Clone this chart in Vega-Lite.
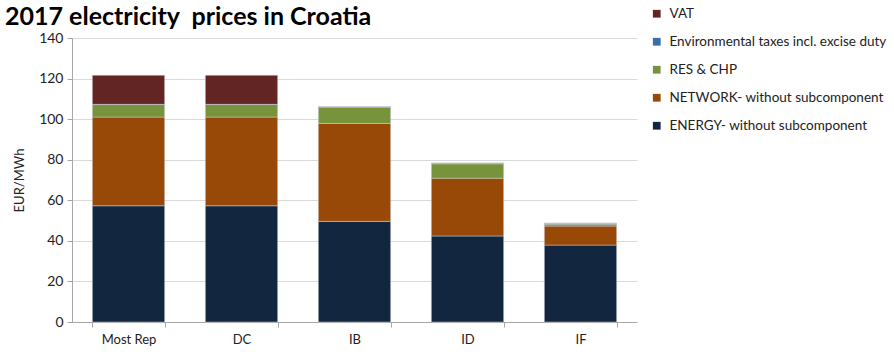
{
  "$schema": "https://vega.github.io/schema/vega-lite/v6.json",
  "width": 565,
  "height": 284,
  "padding": {"left": 5, "top": 5, "right": 2, "bottom": 5},
  "background": "#ffffff",
  "title": {
    "text": "2017 electricity\u00a0 prices in Croatia",
    "anchor": "start",
    "frame": "group",
    "dx": -67,
    "fontSize": 25,
    "font": "Lato",
    "fontWeight": "bold",
    "color": "#000000",
    "offset": -23
  },
  "config": {
    "font": "Lato",
    "view": {"stroke": null},
    "axis": {"labelFont": "Lato", "titleFont": "Lato"},
    "legend": {"labelFont": "Lato"}
  },
  "data": {
    "values": [
      {"cat": "Most Rep", "comp": "ENERGY- without subcomponent", "rank": 1, "v": 57.3},
      {"cat": "Most Rep", "comp": "NETWORK- without subcomponent", "rank": 2, "v": 43.7},
      {"cat": "Most Rep", "comp": "RES & CHP", "rank": 3, "v": 6.2},
      {"cat": "Most Rep", "comp": "Environmental taxes incl. excise duty", "rank": 4, "v": 0.1},
      {"cat": "Most Rep", "comp": "VAT", "rank": 5, "v": 14.3},
      {"cat": "DC", "comp": "ENERGY- without subcomponent", "rank": 1, "v": 57.3},
      {"cat": "DC", "comp": "NETWORK- without subcomponent", "rank": 2, "v": 43.7},
      {"cat": "DC", "comp": "RES & CHP", "rank": 3, "v": 6.2},
      {"cat": "DC", "comp": "Environmental taxes incl. excise duty", "rank": 4, "v": 0.1},
      {"cat": "DC", "comp": "VAT", "rank": 5, "v": 14.3},
      {"cat": "IB", "comp": "ENERGY- without subcomponent", "rank": 1, "v": 49.6},
      {"cat": "IB", "comp": "NETWORK- without subcomponent", "rank": 2, "v": 48.3},
      {"cat": "IB", "comp": "RES & CHP", "rank": 3, "v": 7.9},
      {"cat": "IB", "comp": "Environmental taxes incl. excise duty", "rank": 4, "v": 0.4},
      {"cat": "IB", "comp": "VAT", "rank": 5, "v": 0},
      {"cat": "ID", "comp": "ENERGY- without subcomponent", "rank": 1, "v": 42.4},
      {"cat": "ID", "comp": "NETWORK- without subcomponent", "rank": 2, "v": 28.5},
      {"cat": "ID", "comp": "RES & CHP", "rank": 3, "v": 7.1},
      {"cat": "ID", "comp": "Environmental taxes incl. excise duty", "rank": 4, "v": 0.4},
      {"cat": "ID", "comp": "VAT", "rank": 5, "v": 0},
      {"cat": "IF", "comp": "ENERGY- without subcomponent", "rank": 1, "v": 37.9},
      {"cat": "IF", "comp": "NETWORK- without subcomponent", "rank": 2, "v": 9.4},
      {"cat": "IF", "comp": "RES & CHP", "rank": 3, "v": 0.9},
      {"cat": "IF", "comp": "Environmental taxes incl. excise duty", "rank": 4, "v": 0.5},
      {"cat": "IF", "comp": "VAT", "rank": 5, "v": 0}
    ]
  },
  "mark": {"type": "bar", "stroke": "#d0d4dc", "strokeWidth": 0.6, "strokeOpacity": 0.8},
  "encoding": {
    "x": {
      "field": "cat",
      "type": "nominal",
      "sort": ["Most Rep", "DC", "IB", "ID", "IF"],
      "scale": {"paddingInner": 0.36, "paddingOuter": 0.18},
      "axis": {
        "title": null,
        "labelAngle": 0,
        "labelFontSize": 13,
        "labelColor": "#222222",
        "labelPadding": 6,
        "tickBand": "extent",
        "tickColor": "#a6a6a6",
        "tickSize": 5,
        "domainColor": "#a6a6a6"
      }
    },
    "y": {
      "field": "v",
      "type": "quantitative",
      "stack": "zero",
      "scale": {"domain": [0, 140]},
      "axis": {
        "title": "EUR/MWh",
        "titleFontSize": 13,
        "titleFontWeight": "normal",
        "titleColor": "#222222",
        "titlePadding": 12,
        "values": [0, 20, 40, 60, 80, 100, 120, 140],
        "labelFontSize": 14,
        "labelColor": "#222222",
        "labelPadding": 4,
        "gridColor": "#d9d9d9",
        "tickColor": "#a6a6a6",
        "tickSize": 5,
        "domainColor": "#a6a6a6"
      }
    },
    "color": {
      "field": "comp",
      "type": "nominal",
      "scale": {
        "domain": ["VAT", "Environmental taxes incl. excise duty", "RES & CHP", "NETWORK- without subcomponent", "ENERGY- without subcomponent"],
        "range": ["#632523", "#3a6ea5", "#77933c", "#984807", "#12263f"]
      },
      "legend": {
        "title": null,
        "orient": "none",
        "legendX": 578,
        "legendY": -31,
        "symbolType": "square",
        "symbolSize": 60,
        "symbolStrokeWidth": 0,
        "labelFontSize": 13.5,
        "labelLimit": 0,
        "labelColor": "#222222",
        "rowPadding": 13,
        "labelOffset": 6
      }
    },
    "order": {"field": "rank", "type": "quantitative", "sort": "ascending"}
  }
}
